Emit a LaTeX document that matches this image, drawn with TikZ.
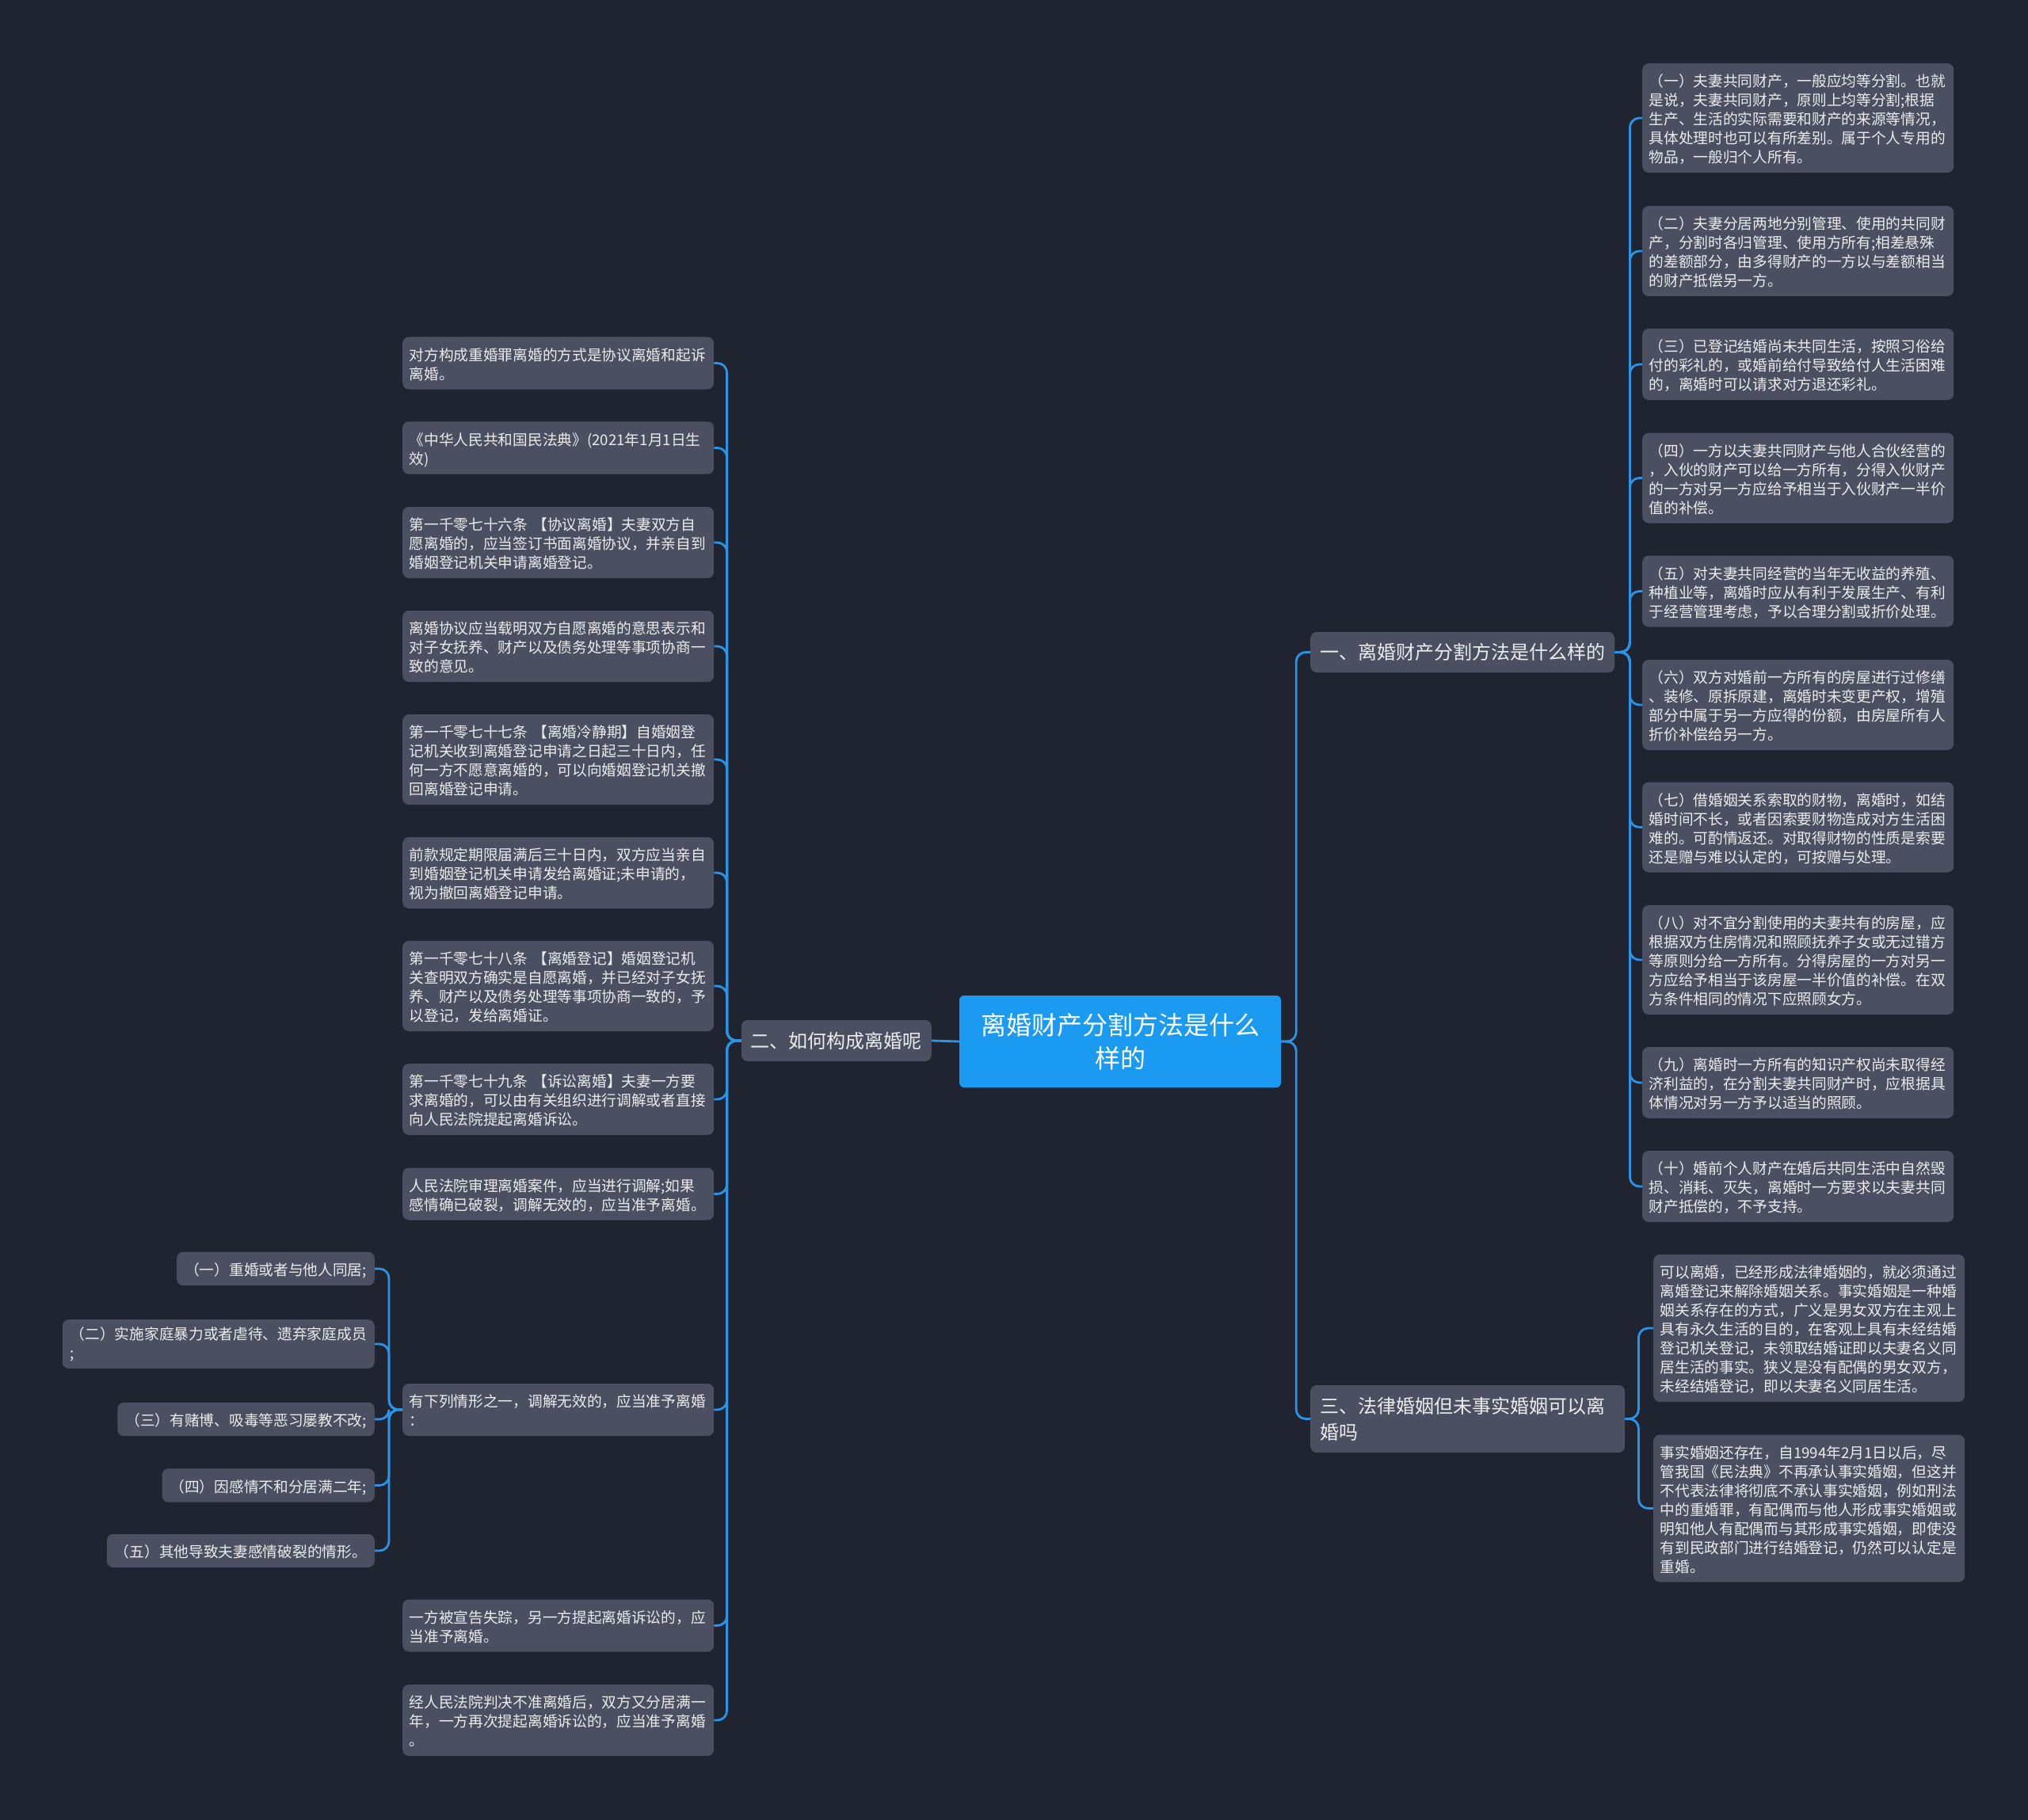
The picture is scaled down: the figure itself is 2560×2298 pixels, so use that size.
\documentclass[tikz,border=0pt]{standalone}
\usepackage{fontspec}
\setmainfont{Noto Sans CJK SC}
\usepackage{xcolor}
\usepackage{tikz}
\usetikzlibrary{positioning}
\definecolor{bgdark}{HTML}{202430}
\definecolor{boxgray}{HTML}{4A5061}
\definecolor{rootblue}{HTML}{1A9AF0}
\definecolor{linkblue}{HTML}{2B93E8}
\definecolor{textlight}{HTML}{ECECEC}

\begin{document}
\begin{tikzpicture}[x=1pt, y=-1pt,
    leaf/.style={fill=boxgray, rounded corners=8pt, text=textlight, align=left,
      font=\fontsize{18.7}{24}\selectfont, text width=376pt, inner xsep=8.5pt, inner ysep=9pt,
      execute at begin node={\rule{0pt}{20.8pt}}, execute at end node={\rule[-3.2pt]{0pt}{3.2pt}}, anchor=west},
    sideleaf/.style={leaf, text width=, inner xsep=10pt, anchor=east},
    branch/.style={fill=boxgray, rounded corners=8pt, text=textlight, align=left,
      font=\fontsize{24}{33}\selectfont, inner xsep=12pt},
    rootbox/.style={fill=rootblue, rounded corners=6pt, text=white, align=center,
      font=\fontsize{32}{42}\selectfont, minimum width=406pt, minimum height=116pt},
    link/.style={draw=linkblue, line width=2.8pt, rounded corners=12pt}]
    % background and page size
    \fill[bgdark] (0,0) rectangle (2560,2298);
    \useasboundingbox (0,0) rectangle (2560,2298);
    % root and main branches
    \node[rootbox] (root) at (1414,1315) {离婚财产分割方法是什么\\样的};
    \node[branch, anchor=west, minimum height=51pt] (b1) at (1654,823.5) {一、离婚财产分割方法是什么样的};
    \node[branch, anchor=east, minimum height=52pt] (b2) at (1176,1314) {二、如何构成离婚呢};
    \node[branch, anchor=west, text width=373pt, minimum height=85pt] (b3) at (1654,1791.5) {三、法律婚姻但未事实婚姻可以离\\婚吗};
    % branch one: ten items
    \node[leaf] (r1) at (2073,149) {（一）夫妻共同财产，一般应均等分割。也就\\是说，夫妻共同财产，原则上均等分割;根据\\生产、生活的实际需要和财产的来源等情况，\\具体处理时也可以有所差别。属于个人专用的\\物品，一般归个人所有。};
    \node[leaf] (r2) at (2073,317) {（二）夫妻分居两地分别管理、使用的共同财\\产，分割时各归管理、使用方所有;相差悬殊\\的差额部分，由多得财产的一方以与差额相当\\的财产抵偿另一方。};
    \node[leaf] (r3) at (2073,460) {（三）已登记结婚尚未共同生活，按照习俗给\\付的彩礼的，或婚前给付导致给付人生活困难\\的，离婚时可以请求对方退还彩礼。};
    \node[leaf] (r4) at (2073,603.5) {（四）一方以夫妻共同财产与他人合伙经营的\\，入伙的财产可以给一方所有，分得入伙财产\\的一方对另一方应给予相当于入伙财产一半价\\值的补偿。};
    \node[leaf] (r5) at (2073,746.5) {（五）对夫妻共同经营的当年无收益的养殖、\\种植业等，离婚时应从有利于发展生产、有利\\于经营管理考虑，予以合理分割或折价处理。};
    \node[leaf] (r6) at (2073,890) {（六）双方对婚前一方所有的房屋进行过修缮\\、装修、原拆原建，离婚时未变更产权，增殖\\部分中属于另一方应得的份额，由房屋所有人\\折价补偿给另一方。};
    \node[leaf] (r7) at (2073,1044.5) {（七）借婚姻关系索取的财物，离婚时，如结\\婚时间不长，或者因索要财物造成对方生活困\\难的。可酌情返还。对取得财物的性质是索要\\还是赠与难以认定的，可按赠与处理。};
    \node[leaf] (r8) at (2073,1212) {（八）对不宜分割使用的夫妻共有的房屋，应\\根据双方住房情况和照顾抚养子女或无过错方\\等原则分给一方所有。分得房屋的一方对另一\\方应给予相当于该房屋一半价值的补偿。在双\\方条件相同的情况下应照顾女方。};
    \node[leaf] (r9) at (2073,1367) {（九）离婚时一方所有的知识产权尚未取得经\\济利益的，在分割夫妻共同财产时，应根据具\\体情况对另一方予以适当的照顾。};
    \node[leaf] (r10) at (2073,1498) {（十）婚前个人财产在婚后共同生活中自然毁\\损、消耗、灭失，离婚时一方要求以夫妻共同\\财产抵偿的，不予支持。};
    % branch three: two items
    \node[leaf] (t1) at (2087,1677) {可以离婚，已经形成法律婚姻的，就必须通过\\离婚登记来解除婚姻关系。事实婚姻是一种婚\\姻关系存在的方式，广义是男女双方在主观上\\具有永久生活的目的，在客观上具有未经结婚\\登记机关登记，未领取结婚证即以夫妻名义同\\居生活的事实。狭义是没有配偶的男女双方，\\未经结婚登记，即以夫妻名义同居生活。};
    \node[leaf] (t2) at (2087,1904.5) {事实婚姻还存在，自1994年2月1日以后，尽\\管我国《民法典》不再承认事实婚姻，但这并\\不代表法律将彻底不承认事实婚姻，例如刑法\\中的重婚罪，有配偶而与他人形成事实婚姻或\\明知他人有配偶而与其形成事实婚姻，即使没\\有到民政部门进行结婚登记，仍然可以认定是\\重婚。};
    % branch two: twelve items
    \node[leaf] (l1) at (508,458.5) {对方构成重婚罪离婚的方式是协议离婚和起诉\\离婚。};
    \node[leaf] (l2) at (508,565.5) {《中华人民共和国民法典》(2021年1月1日生\\效)};
    \node[leaf] (l3) at (508,685) {第一千零七十六条~【协议离婚】夫妻双方自\\愿离婚的，应当签订书面离婚协议，并亲自到\\婚姻登记机关申请离婚登记。};
    \node[leaf] (l4) at (508,816) {离婚协议应当载明双方自愿离婚的意思表示和\\对子女抚养、财产以及债务处理等事项协商一\\致的意见。};
    \node[leaf] (l5) at (508,959) {第一千零七十七条~【离婚冷静期】自婚姻登\\记机关收到离婚登记申请之日起三十日内，任\\何一方不愿意离婚的，可以向婚姻登记机关撤\\回离婚登记申请。};
    \node[leaf] (l6) at (508,1102) {前款规定期限届满后三十日内，双方应当亲自\\到婚姻登记机关申请发给离婚证;未申请的，\\视为撤回离婚登记申请。};
    \node[leaf] (l7) at (508,1245) {第一千零七十八条~【离婚登记】婚姻登记机\\关查明双方确实是自愿离婚，并已经对子女抚\\养、财产以及债务处理等事项协商一致的，予\\以登记，发给离婚证。};
    \node[leaf] (l8) at (508,1388) {第一千零七十九条~【诉讼离婚】夫妻一方要\\求离婚的，可以由有关组织进行调解或者直接\\向人民法院提起离婚诉讼。};
    \node[leaf] (l9) at (508,1507.5) {人民法院审理离婚案件，应当进行调解;如果\\感情确已破裂，调解无效的，应当准予离婚。};
    \node[leaf] (l10) at (508,1780) {有下列情形之一，调解无效的，应当准予离婚\\：};
    \node[leaf] (l11) at (508,2052.5) {一方被宣告失踪，另一方提起离婚诉讼的，应\\当准予离婚。};
    \node[leaf] (l12) at (508,2172) {经人民法院判决不准离婚后，双方又分居满一\\年，一方再次提起离婚诉讼的，应当准予离婚\\。};
    % grounds listed under item ten
    \node[sideleaf] (f1) at (473,1602) {（一）重婚或者与他人同居;};
    \node[sideleaf] (f2) at (473,1697) {（二）实施家庭暴力或者虐待、遗弃家庭成员\\;};
    \node[sideleaf] (f3) at (473,1792) {（三）有赌博、吸毒等恶习屡教不改;};
    \node[sideleaf] (f4) at (473,1875.5) {（四）因感情不和分居满二年;};
    \node[sideleaf] (f5) at (473,1958) {（五）其他导致夫妻感情破裂的情形。};
    % connectors
    \draw[link] (root.west) -- (b2.east);
    \draw[link] (root.east) -- ++(19,0) |- (b1.west);
    \draw[link] (root.east) -- ++(19,0) |- (b3.west);
    \foreach \i in {1,...,10} { \draw[link] (b1.east) -- ++(19,0) |- (r\i.west); }
    \foreach \i in {1,2} { \draw[link] (b3.east) -- ++(17,0) |- (t\i.west); }
    \foreach \i in {1,...,12} { \draw[link] (b2.west) -- ++(-18,0) |- (l\i.east); }
    \foreach \i in {1,...,5} { \draw[link] (l10.west) -- ++(-17,0) |- (f\i.east); }
\end{tikzpicture}
\end{document}
